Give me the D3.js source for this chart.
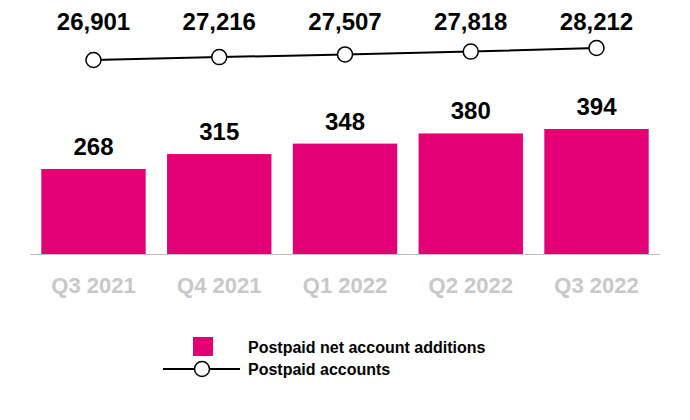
<!DOCTYPE html>
<html><head><meta charset="utf-8">
<script src="https://cdn.jsdelivr.net/npm/d3@7.9.0/dist/d3.min.js"></script>
<style>body{margin:0;background:#fff}text{font-family:Arial,"Liberation Sans",sans-serif;font-weight:bold}</style>
</head><body><svg id="c" width="690" height="420"></svg>
<script>
const quarters = ["Q3 2021", "Q4 2021", "Q1 2022", "Q2 2022", "Q3 2022"];
const netAdds = [268, 315, 348, 380, 394];
const accounts = [26901, 27216, 27507, 27818, 28212];

const svg = d3.select("#c");
const magenta = "#e20074";

const x = d3.scaleBand().domain(quarters).range([30, 660]).paddingInner(0.17).paddingOuter(0.09);
const y = d3.scaleLinear().domain([0, 394]).range([254, 129]);
const yLine = d3.scaleLinear().domain([26901, 28212]).range([60, 48]);

// bars
svg.selectAll("rect.bar").data(netAdds).join("rect")
  .attr("x", (d, i) => x(quarters[i]))
  .attr("y", d => y(d))
  .attr("width", x.bandwidth())
  .attr("height", d => y(0) - y(d))
  .attr("fill", magenta);

svg.selectAll("text.bl").data(netAdds).join("text")
  .attr("x", (d, i) => x(quarters[i]) + x.bandwidth() / 2)
  .attr("y", d => y(d) - 14)
  .attr("text-anchor", "middle").attr("font-size", 24).attr("fill", "#000")
  .text(d => d);

// baseline
svg.append("line").attr("x1", 30).attr("x2", 660).attr("y1", 254.5).attr("y2", 254.5)
  .attr("stroke", "#bfbfbf").attr("stroke-width", 1);

// x labels
svg.selectAll("text.xl").data(quarters).join("text")
  .attr("x", d => x(d) + x.bandwidth() / 2).attr("y", 293)
  .attr("text-anchor", "middle").attr("font-size", 22).attr("fill", "#c8c8c8")
  .text(d => d);

// line
const cx = (d, i) => x(quarters[i]) + x.bandwidth() / 2;
svg.append("path").datum(accounts)
  .attr("d", d3.line().x(cx).y(d => yLine(d)))
  .attr("fill", "none").attr("stroke", "#000").attr("stroke-width", 2);
svg.selectAll("circle.pt").data(accounts).join("circle")
  .attr("cx", cx).attr("cy", d => yLine(d)).attr("r", 7.5)
  .attr("fill", "#fff").attr("stroke", "#000").attr("stroke-width", 1.5);
svg.selectAll("text.ll").data(accounts).join("text")
  .attr("x", cx).attr("y", 30)
  .attr("text-anchor", "middle").attr("font-size", 24).attr("fill", "#000")
  .text(d => d3.format(",")(d));

// legend
svg.append("rect").attr("x", 193).attr("y", 337).attr("width", 20).attr("height", 19).attr("fill", magenta);
svg.append("text").attr("x", 248).attr("y", 353).attr("font-size", 16).text("Postpaid net account additions");
svg.append("line").attr("x1", 163).attr("x2", 240).attr("y1", 369).attr("y2", 369).attr("stroke", "#000").attr("stroke-width", 2);
svg.append("circle").attr("cx", 202).attr("cy", 369).attr("r", 7.5).attr("fill", "#fff").attr("stroke", "#000").attr("stroke-width", 1.5);
svg.append("text").attr("x", 248).attr("y", 375).attr("font-size", 16).text("Postpaid accounts");
</script></body></html>
